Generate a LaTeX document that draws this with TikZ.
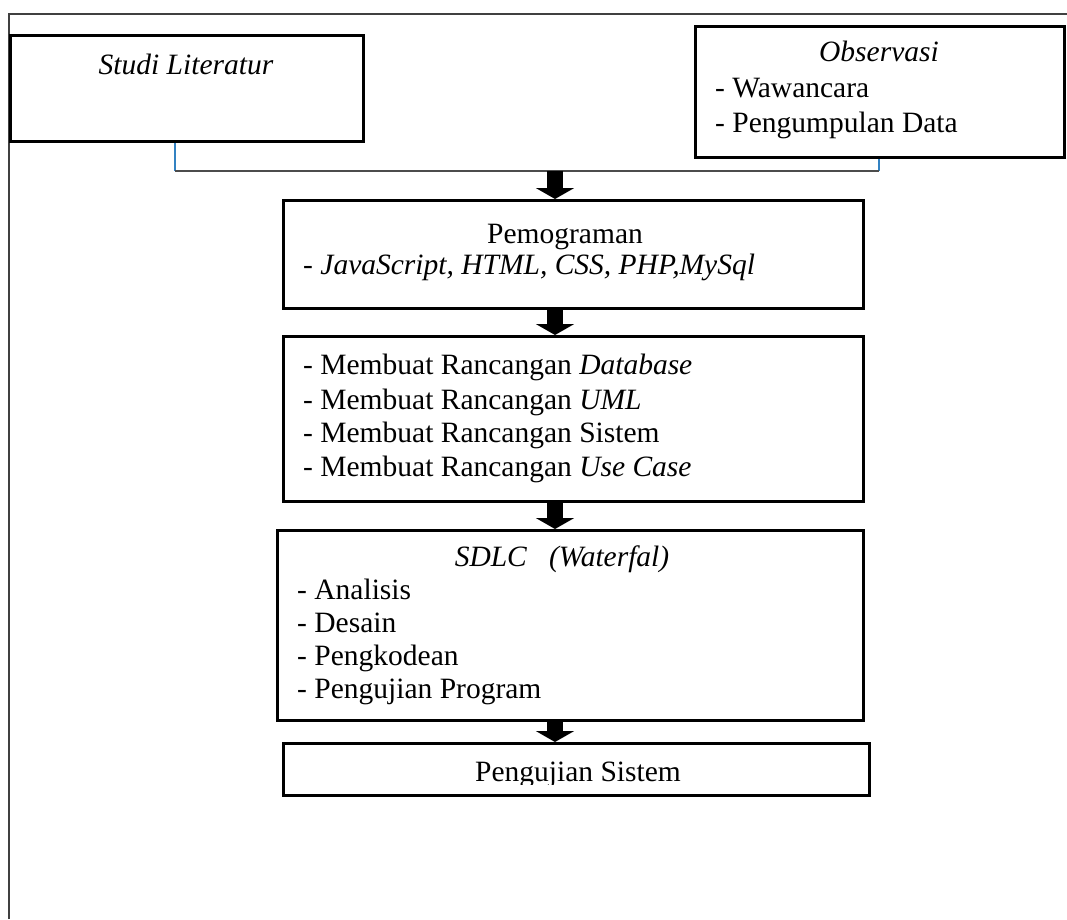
\documentclass[tikz,border=0pt]{standalone}
\usepackage{fontspec}
\setmainfont{Liberation Serif}
\usetikzlibrary{arrows.meta}
\begin{document}
\begin{tikzpicture}[x=1pt,y=-1pt,
  box/.style={draw=black, line width=3pt, rectangle, inner sep=0pt, anchor=north west},
  txt/.style={inner sep=0pt, font=\fontsize{29.5pt}{34pt}\selectfont},
  lt/.style={txt, anchor=base west},
  ct/.style={txt, anchor=base},
  blockarrow/.style={line width=16pt, -{Triangle[width=38pt,length=11pt]}},
  frameline/.style={draw=black!75, line width=2.2pt},
  joinline/.style={draw=black!70, line width=1.5pt},
  blueline/.style={draw=blue!45!cyan!70!black!80, line width=1.2pt}]
\useasboundingbox (0,0) rectangle (1067,919);
\fill[white] (0,0) rectangle (1067,919);
% outer frame
\draw[frameline] (9,919) -- (9,14) -- (1067,14);
% boxes
\node[box, minimum width=353pt, minimum height=106pt] (studi) at (9,34) {};
\node[box, minimum width=369pt, minimum height=131pt] (obs) at (694,25) {};
\node[box, minimum width=580pt, minimum height=108pt] (prog) at (282,199) {};
\node[box, minimum width=580pt, minimum height=165pt] (ranc) at (282,335) {};
\node[box, minimum width=586pt, minimum height=190pt] (sdlc) at (276,529) {};
\node[box, minimum width=586pt, minimum height=52pt] (uji) at (282,742) {};
% texts
\node[ct] (tstudi) at (186,74) {\itshape Studi Literatur};
\node[ct] (tobs) at (879,61) {\itshape Observasi};
\node[lt] (tw) at (715,97) {- Wawancara};
\node[lt] (tpd) at (715,132) {- Pengumpulan Data};
\node[ct] (tprog) at (565,243) {Pemograman};
\node[lt] (tjs) at (303,274) {\itshape - JavaScript, HTML, CSS, PHP,MySql};
\node[lt] (r1) at (303,374) {- Membuat Rancangan \textit{Database}};
\node[lt] (r2) at (303,409) {- Membuat Rancangan \textit{UML}};
\node[lt] (r3) at (303,442) {- Membuat Rancangan Sistem};
\node[lt] (r4) at (303,476) {- Membuat Rancangan \textit{Use Case}};
\node[ct] (ts) at (562,566) {\itshape SDLC\ \ \ (Waterfal)};
\node[lt] (s1) at (297,599) {- Analisis};
\node[lt] (s2) at (297,632) {- Desain};
\node[lt] (s3) at (297,665) {- Pengkodean};
\node[lt] (s4) at (297,698) {- Pengujian Program};
\begin{scope}
  \clip (282,742) rectangle (868,784);
  \node[ct] (tuji) at (578,781) {Pengujian Sistem};
\end{scope}
% connectors
\coordinate (j1) at (175,171);
\coordinate (j2) at (879,171);
\coordinate (ax) at (555,0);
\draw[blueline] (studi.south -| j1) -- (j1);
\draw[blueline] (obs.south -| j2) -- (j2);
\draw[joinline] (j1) -- (j2);
\draw[blockarrow] (ax |- j1) -- (ax |- prog.north);
\draw[blockarrow] (ax |- prog.south) -- (ax |- ranc.north);
\draw[blockarrow] (ax |- ranc.south) -- (ax |- sdlc.north);
\draw[blockarrow] (ax |- sdlc.south) -- (ax |- uji.north);
\end{tikzpicture}
\end{document}
